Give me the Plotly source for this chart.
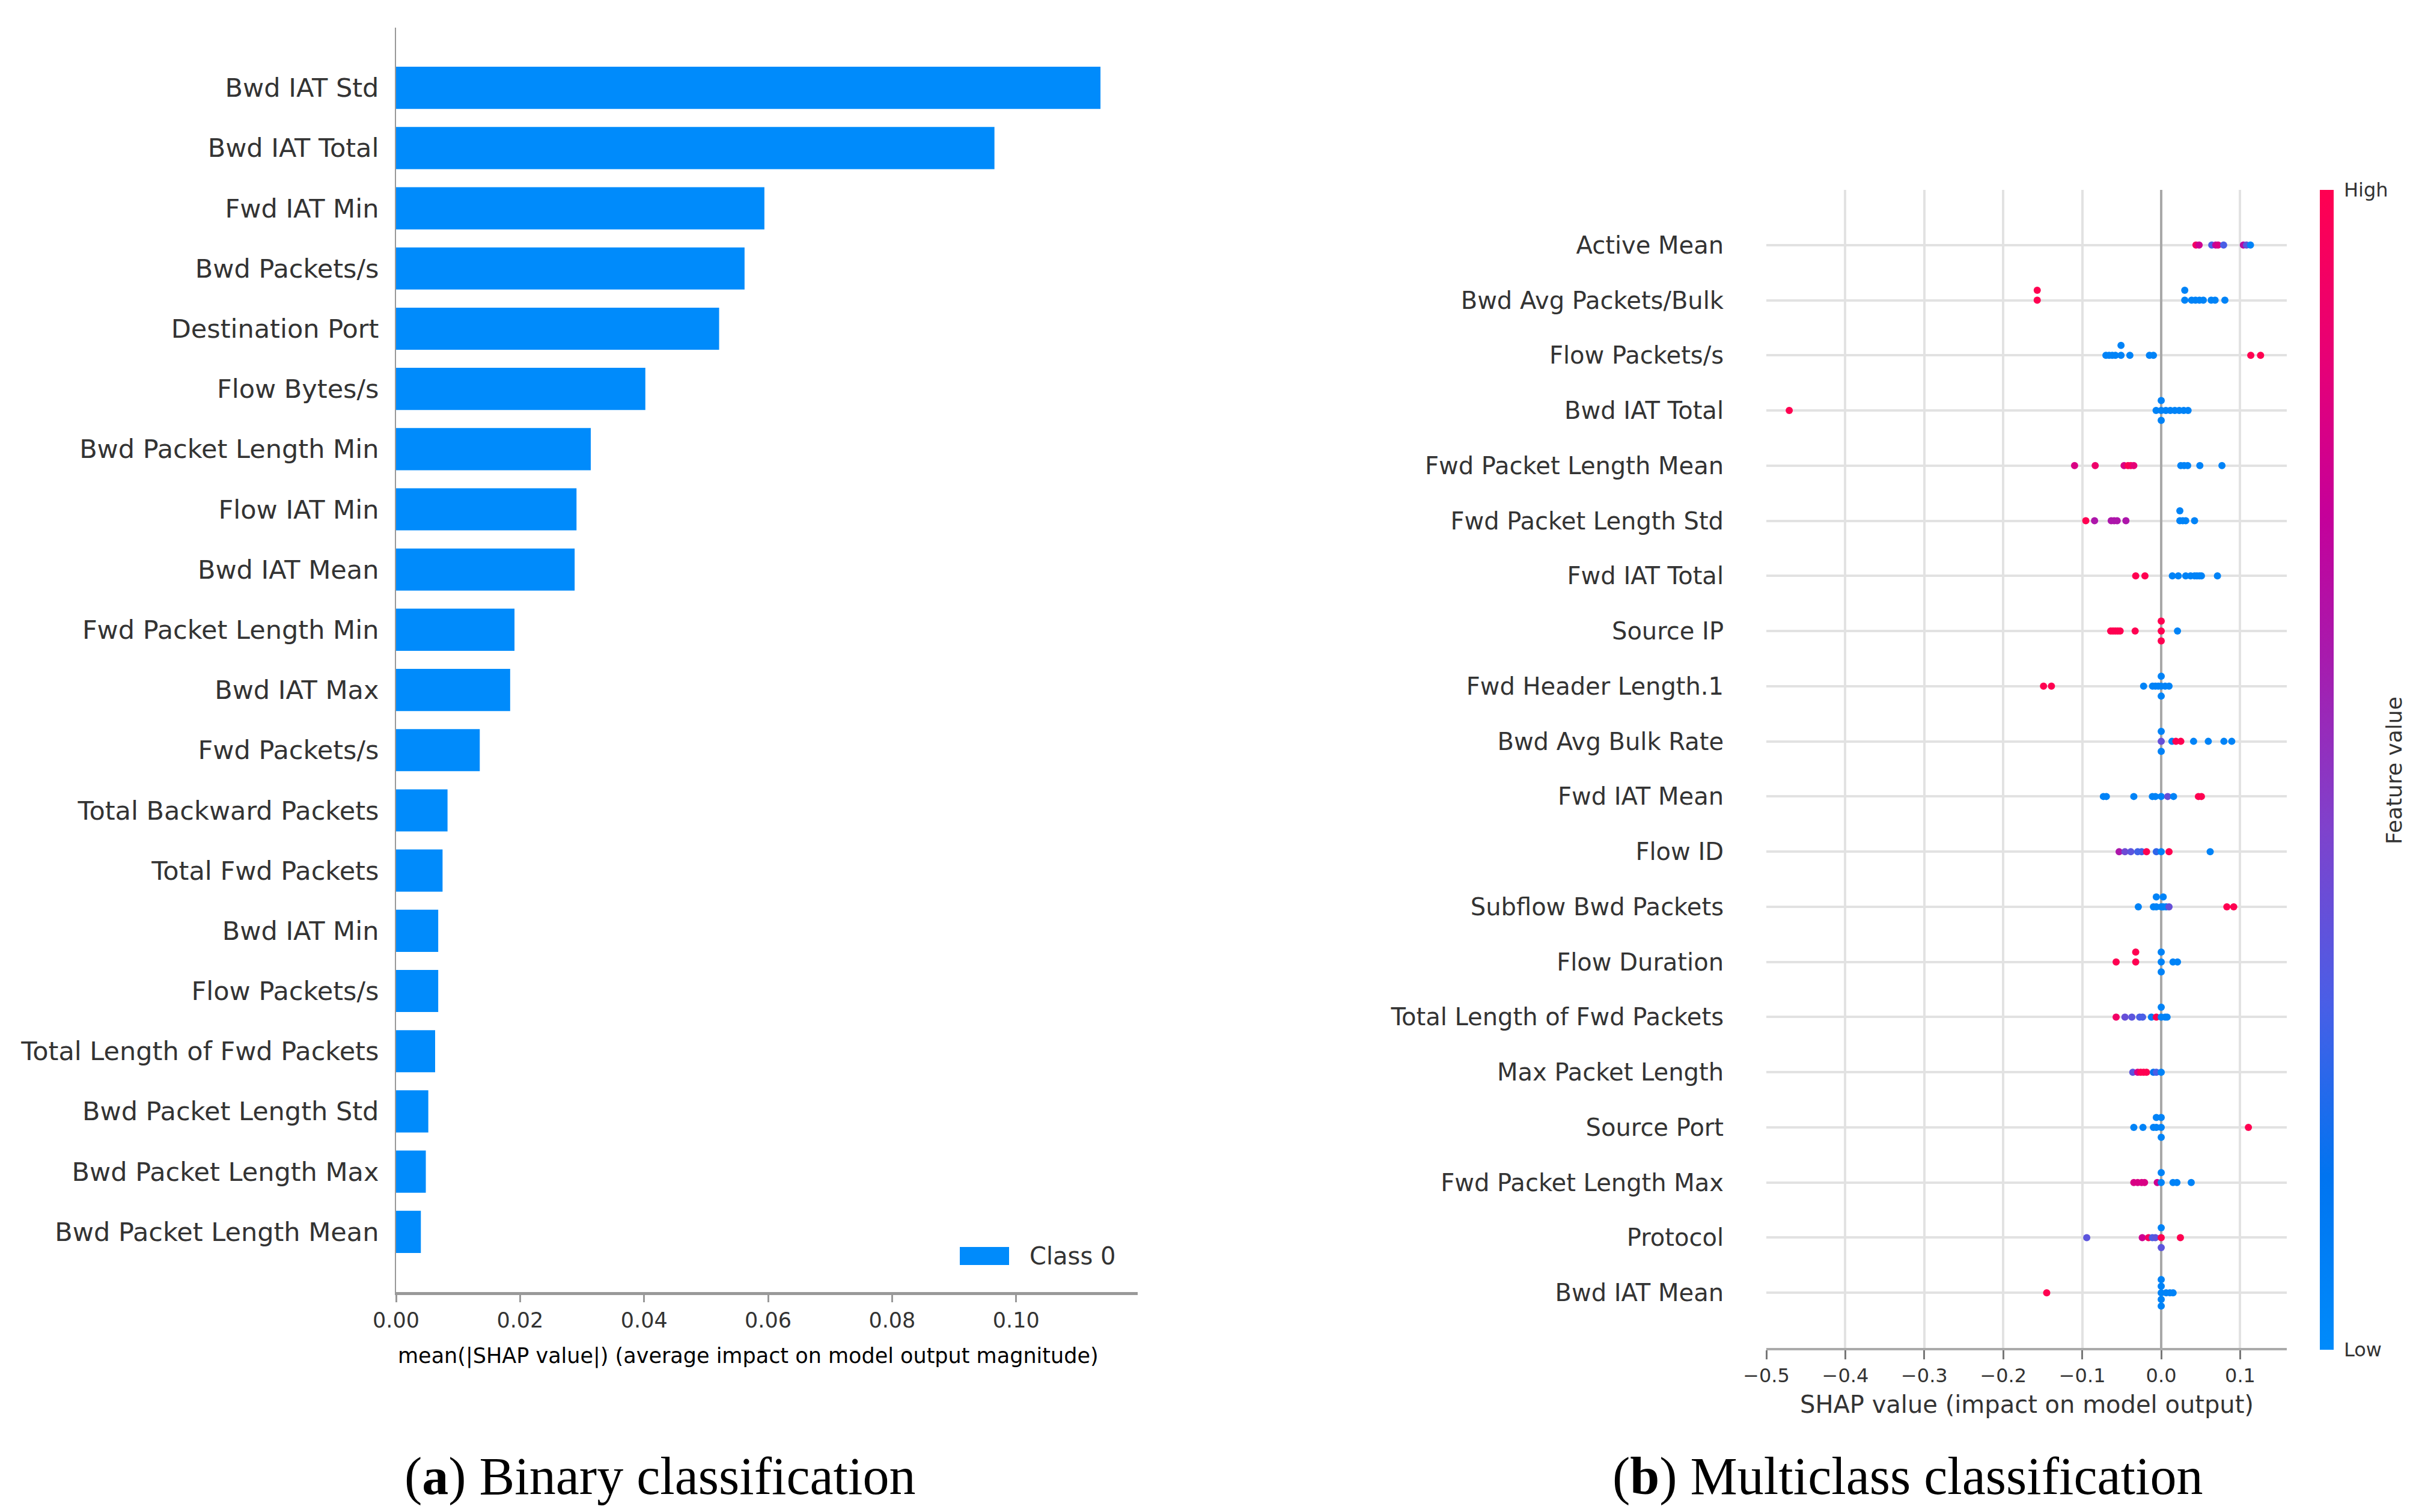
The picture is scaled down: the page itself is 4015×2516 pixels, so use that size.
import numpy as np
import plotly.graph_objects as go

W, H = 4015, 2516

# (a) binary classification: mean |SHAP| per feature, top to bottom
bin_features = ["Bwd IAT Std", "Bwd IAT Total", "Fwd IAT Min", "Bwd Packets/s",
                "Destination Port", "Flow Bytes/s", "Bwd Packet Length Min",
                "Flow IAT Min", "Bwd IAT Mean", "Fwd Packet Length Min",
                "Bwd IAT Max", "Fwd Packets/s", "Total Backward Packets",
                "Total Fwd Packets", "Bwd IAT Min", "Flow Packets/s",
                "Total Length of Fwd Packets", "Bwd Packet Length Std",
                "Bwd Packet Length Max", "Bwd Packet Length Mean"]
bin_importance = [0.1136, 0.0965, 0.0594, 0.0562, 0.0521, 0.0402, 0.0314,
                  0.0291, 0.0288, 0.0191, 0.0184, 0.0135, 0.0083, 0.0075,
                  0.0068, 0.0068, 0.0063, 0.0052, 0.0048, 0.0040]
bin_ticks = [0.0, 0.02, 0.04, 0.06, 0.08, 0.10]

# (b) multiclass classification: SHAP values and (normalised) feature values
mc_features = ["Active Mean", "Bwd Avg Packets/Bulk", "Flow Packets/s",
               "Bwd IAT Total", "Fwd Packet Length Mean", "Fwd Packet Length Std",
               "Fwd IAT Total", "Source IP", "Fwd Header Length.1",
               "Bwd Avg Bulk Rate", "Fwd IAT Mean", "Flow ID",
               "Subflow Bwd Packets", "Flow Duration", "Total Length of Fwd Packets",
               "Max Packet Length", "Source Port", "Fwd Packet Length Max",
               "Protocol", "Bwd IAT Mean"]
mc_shap = [
    [0.044, 0.048, 0.064, 0.069, 0.072, 0.079, 0.104, 0.108, 0.113],
    [-0.157, -0.157, 0.0298, 0.0298, 0.0385, 0.0434, 0.0484, 0.0533, 0.0633, 0.0682, 0.0806],
    [-0.070, -0.066, -0.062, -0.058, -0.0509, -0.0509, -0.0397, -0.0149, -0.0099, 0.1134, 0.1258],
    [-0.471, -0.0065, 0.0, 0.0, 0.0, 0.0058, 0.0115, 0.0172, 0.0228, 0.0285, 0.034],
    [-0.1097, -0.0836, -0.047, -0.042, -0.0385, -0.0347, 0.0248, 0.029, 0.0335, 0.0489, 0.0769],
    [-0.0955, -0.0844, -0.0633, -0.0596, -0.0558, -0.0447, 0.0236, 0.0236, 0.0273, 0.031, 0.0422],
    [-0.0323, -0.0206, 0.0141, 0.0216, 0.031, 0.0372, 0.0422, 0.0452, 0.0484, 0.0509, 0.0712],
    [-0.064, -0.061, -0.058, -0.055, -0.052, -0.033, 0.0, 0.0, 0.0, 0.0206],
    [-0.149, -0.139, -0.0223, -0.011, -0.0074, -0.0037, 0.0, 0.0, 0.0, 0.005, 0.0099],
    [0.0, 0.0, 0.0, 0.0136, 0.0186, 0.0248, 0.041, 0.0596, 0.0794, 0.0893],
    [-0.0732, -0.0695, -0.0347, -0.0112, -0.0074, 0.0, 0.0082, 0.0156, 0.0471, 0.0509],
    [-0.0533, -0.0459, -0.0385, -0.0298, -0.0248, -0.0186, -0.0062, 0.0, 0.0099, 0.062],
    [-0.029, -0.0099, -0.0062, -0.0062, 0.0, 0.0025, 0.0025, 0.0062, 0.0099, 0.0831, 0.0918],
    [-0.0571, -0.0323, -0.0323, 0.0, 0.0, 0.0, 0.0149, 0.0206],
    [-0.0571, -0.0459, -0.0372, -0.0273, -0.0236, -0.0124, -0.0062, 0.0, 0.0, 0.005, 0.0074],
    [-0.036, -0.0298, -0.026, -0.0223, -0.0186, -0.0099, -0.0062, 0.0],
    [-0.0347, -0.0231, -0.0099, -0.0062, -0.0062, 0.0, 0.0, 0.0, 0.1104],
    [-0.0347, -0.0298, -0.0248, -0.0211, -0.005, 0.0, 0.0, 0.0149, 0.0199, 0.038],
    [-0.0943, -0.024, -0.0161, -0.0112, -0.0074, 0.0, 0.0, 0.0, 0.0243],
    [-0.145, 0.0, 0.0, 0.0, 0.0, 0.0, 0.0062, 0.011, 0.015],
]
mc_value = [
    [0.92, 0.75, 0.3, 0.7, 0.8, 0.3, 0.65, 0.35, 0.05],
    [1.0, 1.0, 0.05, 0.05, 0.05, 0.05, 0.05, 0.05, 0.05, 0.05, 0.05],
    [0.05, 0.05, 0.05, 0.05, 0.05, 0.05, 0.05, 0.05, 0.05, 1.0, 1.0],
    [1.0, 0.05, 0.05, 0.05, 0.05, 0.05, 0.05, 0.05, 0.05, 0.05, 0.05],
    [0.8, 0.9, 0.8, 1.0, 0.95, 0.85, 0.05, 0.05, 0.05, 0.05, 0.05],
    [1.0, 0.62, 0.62, 0.62, 0.62, 0.62, 0.05, 0.05, 0.05, 0.05, 0.05],
    [1.0, 1.0, 0.05, 0.05, 0.05, 0.05, 0.05, 0.05, 0.05, 0.05, 0.05],
    [1.0, 1.0, 1.0, 1.0, 1.0, 1.0, 1.0, 1.0, 1.0, 0.05],
    [1.0, 1.0, 0.05, 0.05, 0.05, 0.05, 0.05, 0.05, 0.05, 0.05, 0.05],
    [0.38, 0.05, 0.05, 0.05, 1.0, 1.0, 0.05, 0.05, 0.05, 0.05],
    [0.05, 0.05, 0.05, 0.05, 0.05, 0.05, 0.38, 0.05, 1.0, 1.0],
    [0.62, 0.4, 0.35, 0.28, 0.28, 1.0, 0.25, 0.05, 1.0, 0.05],
    [0.05, 0.05, 0.05, 0.05, 0.05, 0.05, 0.05, 0.05, 0.38, 1.0, 1.0],
    [1.0, 1.0, 1.0, 0.05, 0.05, 0.05, 0.05, 0.05],
    [0.92, 0.38, 0.35, 0.3, 0.3, 0.1, 1.0, 0.05, 0.05, 0.05, 0.05],
    [0.35, 0.8, 1.0, 1.0, 1.0, 0.15, 0.3, 0.05],
    [0.05, 0.05, 0.05, 0.05, 0.05, 0.05, 0.05, 0.05, 1.0],
    [0.8, 0.8, 0.8, 0.8, 0.75, 0.05, 0.05, 0.05, 0.05, 0.05],
    [0.35, 0.75, 0.95, 0.3, 0.35, 1.0, 0.05, 0.35, 1.0],
    [1.0, 0.05, 0.05, 0.05, 0.05, 0.05, 0.05, 0.05, 0.05],
]
mc_ticks = [-0.5, -0.4, -0.3, -0.2, -0.1, 0.0, 0.1]

red_blue = [[0.0, "#008bfb"], [0.15, "#0074f0"], [0.3, "#4a5ee6"],
            [0.45, "#7f42cc"], [0.6, "#a81aad"], [0.72, "#c5009a"],
            [0.85, "#e60077"], [1.0, "#ff0051"]]


def swarm(vals, row_height=0.4, nbins=100):
    # vertical jitter the way shap's beeswarm stacks points in the same bin
    vals = np.asarray(vals, dtype=float)
    quant = np.round(nbins * (vals - vals.min()) / (vals.max() - vals.min() + 1e-8))
    ys = np.zeros(len(vals))
    layer, last = 0, None
    for i in np.argsort(quant, kind="stable"):
        if quant[i] != last:
            layer = 0
        ys[i] = np.ceil(layer / 2) * ((layer % 2) * 2 - 1)
        layer += 1
        last = quant[i]
    return ys * 0.9 * (row_height / np.max(ys + 1))


n = len(mc_features)
xs, ys, cs = [], [], []
for i, (sv, fv) in enumerate(zip(mc_shap, mc_value)):
    pos = n - 1 - i
    xs += list(sv)
    ys += list(pos + swarm(sv))
    cs += list(fv)

px = lambda v: v / W
py = lambda v: 1 - v / H

fig = go.Figure()
fig.add_trace(go.Bar(
    x=bin_importance, y=bin_features, orientation="h", width=0.7,
    marker=dict(color="#008bfb", line=dict(width=0)),
    name="Class 0", showlegend=False, xaxis="x", yaxis="y"))

fig.add_trace(go.Scatter(
    x=xs, y=ys, mode="markers", xaxis="x2", yaxis="y2", showlegend=False,
    marker=dict(size=12, color=cs, colorscale=red_blue, cmin=0, cmax=1,
                line=dict(width=0), showscale=True,
                colorbar=dict(x=px(3852), xanchor="left", y=(py(308) + py(2238)) / 2,
                              yanchor="middle", len=py(308) - py(2238), lenmode="fraction",
                              thickness=23, outlinewidth=0, xpad=0, ypad=0,
                              ticks="", showticklabels=False))))

tick_font = dict(family="DejaVu Sans", color="#333333")

fig.update_layout(
    width=W, height=H, margin=dict(l=0, r=0, t=0, b=0, autoexpand=False),
    paper_bgcolor="white", plot_bgcolor="white",
    font=dict(family="DejaVu Sans", color="#333333"),
    xaxis=dict(domain=[px(651), px(1885)], range=[0, 0.1196], anchor="y",
               automargin=False,
               tickvals=bin_ticks, tickformat=".2f", ticks="outside", ticklen=12,
               tickwidth=3, tickcolor="#999999", showline=True, linecolor="#999999",
               linewidth=5, showgrid=False, zeroline=False,
               tickfont=dict(size=35, **tick_font)),
    yaxis=dict(domain=[py(2142), py(38)], anchor="x", type="category",
               automargin=False,
               categoryorder="array", categoryarray=bin_features[::-1],
               range=[-1, len(bin_features)], ticks="", ticklabelstandoff=18,
               showline=True, linecolor="#999999", linewidth=2, showgrid=False,
               zeroline=False, tickfont=dict(size=43, **tick_font)),
    xaxis2=dict(domain=[px(2931), px(3797)], range=[-0.5, 0.159], anchor="y2",
                automargin=False,
                tickvals=mc_ticks,
                ticktext=[("\u2212" if t < 0 else "") + f"{abs(t):.1f}" for t in mc_ticks],
                ticks="outside", ticklen=15, tickwidth=3, tickcolor="#777777",
                showline=True, linecolor="#aaaaaa", linewidth=4,
                showgrid=True, gridcolor="#e2e2e2", gridwidth=4,
                zeroline=True, zerolinecolor="#a8a8a8", zerolinewidth=4,
                tickfont=dict(size=32, **tick_font)),
    yaxis2=dict(domain=[py(2235), py(308)], anchor="x2", range=[-1, n],
                automargin=False,
                tickvals=list(range(n)), ticktext=mc_features[::-1], ticks="",
                ticklabelstandoff=70, showline=False, showgrid=True,
                gridcolor="#e2e2e2", gridwidth=4, zeroline=False,
                tickfont=dict(size=40, **tick_font)),
)

# legend patch for panel (a)
fig.add_shape(type="rect", xref="paper", yref="paper",
              x0=px(1589), x1=px(1671), y0=py(2097), y1=py(2067),
              fillcolor="#008bfb", line=dict(width=0))

notes = [
    dict(x=px(1703), y=py(2082), text="Class 0", xanchor="left", yanchor="middle",
         font=dict(size=40, color="#333333")),
    dict(x=px(1237), y=py(2248), text="mean(|SHAP value|) (average impact on model output magnitude)",
         xanchor="center", yanchor="middle", font=dict(size=35, color="#000000")),
    dict(x=px(3364), y=py(2329), text="SHAP value (impact on model output)",
         xanchor="center", yanchor="middle", font=dict(size=40, color="#333333")),
    dict(x=px(3890), y=py(308), text="High", xanchor="left", yanchor="middle",
         font=dict(size=32, color="#333333")),
    dict(x=px(3890), y=py(2238), text="Low", xanchor="left", yanchor="middle",
         font=dict(size=32, color="#333333")),
    dict(x=px(3975), y=py(1274), text="Feature value", textangle=-90,
         xanchor="center", yanchor="middle", font=dict(size=36, color="#333333")),
    dict(x=px(1090), y=py(2448), text="(<b>a</b>) Binary classification",
         xanchor="center", yanchor="middle",
         font=dict(family="Liberation Serif", size=88, color="#000000")),
    dict(x=px(3166), y=py(2448), text="(<b>b</b>) Multiclass classification",
         xanchor="center", yanchor="middle",
         font=dict(family="Liberation Serif", size=88, color="#000000")),
]
for a in notes:
    fig.add_annotation(xref="paper", yref="paper", showarrow=False, **a)

fig.write_html("out.html")
